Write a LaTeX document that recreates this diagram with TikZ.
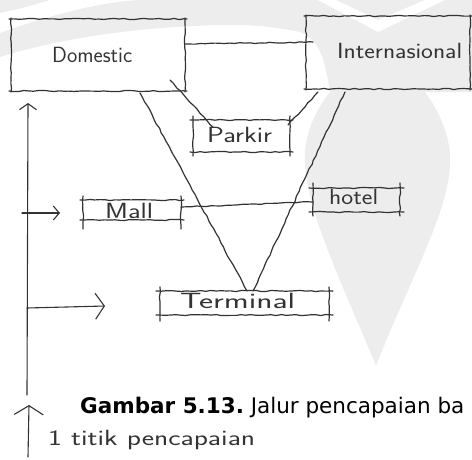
\documentclass[tikz,border=0pt]{standalone}
\usepackage{fontspec}
\newfontfamily\capfont{DejaVu Sans}
\usetikzlibrary{decorations.pathmorphing,arrows.meta,calc}
\definecolor{ink}{HTML}{333333}
\definecolor{wm}{HTML}{EDEDED}
\tikzset{
  sk/.style={draw=ink, line width=1.2pt, line cap=round, line join=round,
    decorate, decoration={random steps, segment length=5pt, amplitude=0.6pt}},
  arr/.style={draw=ink, line width=1.1pt, line cap=round, line join=round},
  boxn/.style={draw=none, inner sep=0pt, outer sep=0pt},
  hand/.style={text=ink, inner sep=0pt, anchor=west,
    font=\fontsize{22}{22}\sffamily\addfontfeatures{FakeBold=0.8}},
}
% label text stretched to a given width
\newcommand\hw[2]{\resizebox{#1}{\height}{#2}}
% name, horizontal overshoot, top overshoot, bottom overshoot
\newcommand\skbox[4]{%
  \draw[sk] ([xshift=-#2]#1.north west) -- ([xshift=#2]#1.north east);
  \draw[sk] ([xshift=-#2]#1.south west) -- ([xshift=#2]#1.south east);
  \draw[sk] ([yshift=#3]#1.north west) -- ([yshift=-#4]#1.south west);
  \draw[sk] ([yshift=#3]#1.north east) -- ([yshift=-#4]#1.south east);
}
\begin{document}
\begin{tikzpicture}[x=1pt,y=-1pt]
\pgfmathsetseed{7}
\useasboundingbox (0,0) rectangle (472,459);
% watermark
\fill[wm] (0,0) -- (50,0) .. controls (30,6) and (15,10) .. (0,13) -- cycle;
\fill[wm] (0,33) .. controls (50,15) and (100,2) .. (140,0) -- (472,0) -- (472,92)
  -- (330,92) .. controls (325,60) and (320,40) .. (300,32)
  .. controls (270,26) and (250,25) .. (236,25)
  .. controls (160,25) and (70,35) .. (0,57) -- cycle;
\fill[white] (318,0) -- (378,32) -- (445,0) -- (425,0) -- (378,20) -- (336,0) -- cycle;
\fill[wm] (330,92) .. controls (312,115) and (303,140) .. (305,165)
  .. controls (308,215) and (345,290) .. (376,366)
  .. controls (405,290) and (448,215) .. (450,165)
  .. controls (452,140) and (440,112) .. (425,92) -- cycle;
% boxes
\node[boxn, minimum width=174pt, minimum height=72pt] (dom) at (98,55) {};
\node[boxn, minimum width=164pt, minimum height=73pt] (intl) at (388,52.5) {};
\node[boxn, minimum width=97pt, minimum height=32pt] (park) at (241.5,136) {};
\node[boxn, minimum width=98pt, minimum height=20pt] (mall) at (132,210) {};
\node[boxn, minimum width=87pt, minimum height=24pt] (hotel) at (356.5,200) {};
\node[boxn, minimum width=169pt, minimum height=24pt] (term) at (244.5,303) {};
\skbox{dom}{2pt}{1pt}{1pt}
\skbox{intl}{2pt}{1pt}{1pt}
\skbox{park}{3pt}{4pt}{4pt}
\skbox{mall}{3pt}{4pt}{9pt}
\skbox{hotel}{4pt}{5pt}{4pt}
\skbox{term}{4pt}{4pt}{6pt}
% labels
\node[hand] (tdom) at (52,55) {\hw{80pt}{Domestic}};
\node[hand] (tintl) at (337,51) {\hw{125pt}{Internasional}};
\node[hand] (tpark) at (207,135) {\hw{65pt}{Parkir}};
\node[hand] (tmall) at (105,211) {\hw{48pt}{Mall}};
\node[hand] (thotel) at (329,197) {\hw{49pt}{hotel}};
\node[hand] (tterm) at (180,301) {\hw{115pt}{Terminal}};
% connectors
\draw[sk] ([yshift=11pt]dom.east) -- ([xshift=7pt,yshift=10.5pt]intl.west);
\draw[sk] ([xshift=-15pt,yshift=11pt]dom.south east) -- ([xshift=20pt,yshift=-7pt]park.north west);
\draw[sk] ([xshift=12pt,yshift=-3pt]intl.south west) -- ([xshift=-2pt,yshift=-5pt]park.north east);
\draw[sk] ([xshift=42pt,yshift=-2pt]dom.south) -- ([xshift=2.5pt]term.north);
\draw[sk] ([xshift=-43pt,yshift=-3pt]intl.south) -- ([xshift=8.5pt]term.north);
\draw[sk] ([yshift=3pt]mall.east) -- ([yshift=-2pt]hotel.west);
% access arrows
\coordinate (vtop) at (28,103);
\coordinate (vbot) at (27,395);
\coordinate (a1s) at (22,213);
\coordinate (a1e) at (60,213);
\coordinate (a2s) at (27,308);
\coordinate (a2e) at (105,306);
\coordinate (b1s) at (28,457);
\coordinate (b1e) at (29,405);
\draw[arr, {Straight Barb[length=6pt,width=17pt]}-] (vtop) -- (vbot);
\draw[arr, -{Straight Barb[length=6pt,width=14pt]}] (a1s) -- (a1e);
\draw[arr, -{Straight Barb[length=9pt,width=26pt]}] (a2s) -- (a2e);
\draw[arr, -{Straight Barb[length=9pt,width=29pt]}] (b1s) -- (b1e);
% texts
\node[anchor=base west, inner sep=0pt, text=black] (cap) at (80,413)
  {\capfont\fontsize{21.5}{21.5}\selectfont\bfseries Gambar 5.13.\mdseries\ Jalur pencapaian ba};
\node[hand, anchor=base west] (tpt) at (48,445) {\hw{207pt}{1 titik pencapaian}};
\end{tikzpicture}
\end{document}
